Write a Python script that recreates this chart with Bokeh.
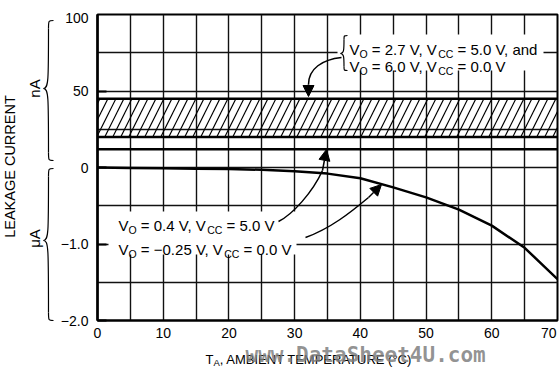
import math
from bokeh.plotting import figure
from bokeh.models import Range1d, FixedTicker, Arrow, NormalHead
from bokeh.core.properties import value
from bokeh.embed import file_html
from bokeh.resources import INLINE

# ---------------- data ----------------
temp_c = [0, 5, 10, 15, 20, 25, 30, 35, 40, 45, 50, 55, 60, 65, 70]
leak_vo_m025_uA = [0.0, -0.005, -0.01, -0.015, -0.02, -0.03, -0.05, -0.08,
                   -0.14, -0.26, -0.39, -0.55, -0.76, -1.05, -1.46]
band_temp = [0, 70]
band_high_nA = [45, 45]
band_low_nA = [20, 20]
vo04_temp = [0, 70]
vo04_nA = [12, 12]
x_tick_values = [0, 10, 20, 30, 40, 50, 60]
x_tick_last = 70
y_tick_values = [-2, -1, 0, 1]
y_tick_labels = ["\u22122.0", "\u22121.0", "0", "50"]
y_tick_top = 2
y_tick_top_label = "100"
NA_PER_UNIT = 50.0  # upper half of the axis: 50 nA per unit; lower half in uA

FONT = "Liberation Sans"

# ---------------- figure ----------------
p = figure(width=559, height=371, x_range=Range1d(0, 70), y_range=Range1d(-2, 2),
           output_backend="svg", toolbar_location=None, title=None,
           min_border_left=97, min_border_right=2, min_border_top=14, min_border_bottom=51)
p.background_fill_color = "white"
p.border_fill_color = "white"
p.outline_line_color = "black"
p.outline_line_width = 2

# canvas-pixel -> data helpers for annotation placement
def dx(px):
    return (px - 97) / (460 / 70)

def dy(py):
    return (167 - py) / 76.5

# grid
p.xgrid.ticker = FixedTicker(ticks=list(range(5, 70, 5)))
p.ygrid.ticker = FixedTicker(ticks=[-1.5, -1, -0.5, 0, 0.5, 1, 1.5])
for g in (p.xgrid, p.ygrid):
    g.grid_line_color = "#111111"
    g.grid_line_width = 1.4
    g.grid_line_alpha = 1.0

# axes
xa = p.xaxis[0]
xa.ticker = FixedTicker(ticks=x_tick_values)
xa.major_tick_in = 0
xa.major_tick_out = 0
xa.minor_tick_line_color = None
xa.axis_line_width = 2
xa.major_label_standoff = 7
xa.major_label_text_font = FONT
xa.major_label_text_font_size = "14px"
xa.major_label_text_color = "black"

ya = p.yaxis[0]
ya.ticker = FixedTicker(ticks=y_tick_values)
ya.major_label_overrides = {v: t for v, t in zip(y_tick_values, y_tick_labels)}
ya.major_tick_in = 9
ya.major_tick_out = 0
ya.major_tick_line_width = 2
ya.minor_tick_line_color = None
ya.axis_line_width = 2.5
ya.major_label_standoff = 9
ya.major_label_text_font = FONT
ya.major_label_text_font_size = "14px"
ya.major_label_text_color = "black"

# ---------------- data marks ----------------
p.varea(x=band_temp, y1=[v / NA_PER_UNIT for v in band_low_nA],
        y2=[v / NA_PER_UNIT for v in band_high_nA],
        fill_alpha=0, hatch_pattern="/", hatch_color="black",
        hatch_scale=16, hatch_weight=1.2)
p.line(band_temp, [v / NA_PER_UNIT for v in band_high_nA], line_color="black", line_width=2.5)
p.line(band_temp, [v / NA_PER_UNIT for v in band_low_nA], line_color="black", line_width=2.5)
p.line(vo04_temp, [v / NA_PER_UNIT for v in vo04_nA], line_color="black", line_width=2.5)
p.line(temp_c, leak_vo_m025_uA, line_color="black", line_width=2.5)

# ---------------- white masks behind annotation text ----------------
p.quad(left=[dx(108), dx(337)], right=[dx(296), dx(543)],
       top=[dy(211), dy(34)], bottom=[dy(254), dy(70)],
       fill_color="white", line_color=None)

# ---------------- text helpers ----------------
W = {' ': 278, ',': 278, '.': 278, '=': 584, '\u2212': 584, 'V': 667, 'O': 778,
     'C': 722, 'a': 556, 'n': 556, 'd': 556, 'T': 611, 'A': 667}

def tw(s, size):
    return sum(W.get(ch, 556) for ch in s) * size / 1000.0

def txt(x, y, s, size, font=FONT, align="left", baseline="alphabetic", angle=0.0,
        color="black", style="normal", xo=0.0, yo=0.0, alpha=1.0):
    r = p.text(x=[x], y=[y], text=[s], text_font=value(font),
               text_font_size=value(f"{size}px"), text_align=align,
               text_baseline=baseline, angle=angle, text_color=color,
               text_font_style=style, x_offset=xo, y_offset=yo, text_alpha=alpha)
    r.level = "annotation"
    return r

def rich(px, py, parts, size=15, sub_size=10.5, sub_drop=4):
    off = 0.0
    for t, sub in parts:
        fs = sub_size if sub else size
        lead = len(t) - len(t.lstrip(' '))
        body = t.strip(' ')
        if body:
            txt(dx(px), dy(py), body, fs, xo=off + tw(' ' * lead, fs),
                yo=sub_drop if sub else 0)
        off += tw(t, fs)

def brace(xr, xl, y0, ym, y1, k=6, lw=1.2, level="glyph"):
    xm = (xr + xl) / 2
    segs = [
        ((xr, y0), (xm, y0), (xm, y0), (xm, y0 + k)),
        ((xm, y0 + k), (xm, ym - k), (xm, ym), (xl, ym)),
        ((xl, ym), (xm, ym), (xm, ym + k), (xm, y1 - k)),
        ((xm, y1 - k), (xm, y1), (xm, y1), (xr, y1)),
    ]
    r = p.bezier(x0=[dx(s[0][0]) for s in segs], y0=[dy(s[0][1]) for s in segs],
                 cx0=[dx(s[1][0]) for s in segs], cy0=[dy(s[1][1]) for s in segs],
                 cx1=[dx(s[2][0]) for s in segs], cy1=[dy(s[2][1]) for s in segs],
                 x1=[dx(s[3][0]) for s in segs], y1=[dy(s[3][1]) for s in segs],
                 line_color="black", line_width=lw)
    r.level = level

# ---------------- leaders and arrows ----------------
def leader(pts, tip_from, tip_to):
    (x0, y0), (cx0, cy0), (cx1, cy1), (x1, y1) = pts
    p.bezier(x0=[dx(x0)], y0=[dy(y0)], cx0=[dx(cx0)], cy0=[dy(cy0)],
             cx1=[dx(cx1)], cy1=[dy(cy1)], x1=[dx(x1)], y1=[dy(y1)],
             line_color="black", line_width=1.5)
    p.add_layout(Arrow(end=NormalHead(size=11, fill_color="black", line_color="black", line_width=1),
                       x_start=dx(tip_from[0]), y_start=dy(tip_from[1]),
                       x_end=dx(tip_to[0]), y_end=dy(tip_to[1]),
                       line_color="black", line_width=1.5))

leader(((341, 57), (322, 59), (308, 68), (308, 84)), (308, 84), (308, 96))
leader(((278, 221), (292, 214), (312, 192), (322, 170)), (322, 170), (326, 149))
leader(((305, 237), (330, 228), (350, 212), (368, 197)), (368, 197), (381, 184))

# top brace
brace(347, 340, 35, 53, 70, k=4, lw=1.2)

# ---------------- annotation texts ----------------
rich(349, 49, [("V", 0), ("O", 1), (" = 2.7 V, V", 0), ("CC", 1), (" = 5.0 V, and", 0)])
rich(349, 66, [("V", 0), ("O", 1), (" = 6.0 V, V", 0), ("CC", 1), (" = 0.0 V", 0)])
rich(118, 225, [("V", 0), ("O", 1), (" = 0.4 V, V", 0), ("CC", 1), (" = 5.0 V", 0)])
rich(118, 249, [("V", 0), ("O", 1), (" = \u22120.25 V, V", 0), ("CC", 1), (" = 0.0 V", 0)])

# end tick labels kept inside the canvas
txt(x_tick_last, -2, str(x_tick_last), 14, align="right", baseline="top", xo=-1, yo=7)
txt(0, y_tick_top, y_tick_top_label, 14, align="right", baseline="top", xo=-9, yo=-2)

# left side: axis title, units and braces
txt(dx(9), dy(166), "LEAKAGE CURRENT", 14.5, align="center", baseline="middle", angle=math.pi / 2)
txt(dx(34), dy(88), "nA", 15, align="center", baseline="middle", angle=math.pi / 2)
txt(dx(34), dy(238), "\u03bcA", 15, align="center", baseline="middle", angle=math.pi / 2)
brace(53, 43, 20, 88, 160, k=8, lw=1.2, level="annotation")
brace(53, 43, 168, 240, 320, k=8, lw=1.2, level="annotation")

# x axis title
rich(205, 359, [("T", 0), ("A", 1), (", AMBIENT TEMPERATURE (\u00b0C)", 0)],
     size=13, sub_size=9.5, sub_drop=3)

# watermark
txt(dx(245), dy(354), "www.DataSheet4U.com", 21, font="DejaVu Sans Mono", style="bold",
    color="#7f7f7f", alpha=0.85)

open("out.html", "w").write(file_html(p, INLINE))
